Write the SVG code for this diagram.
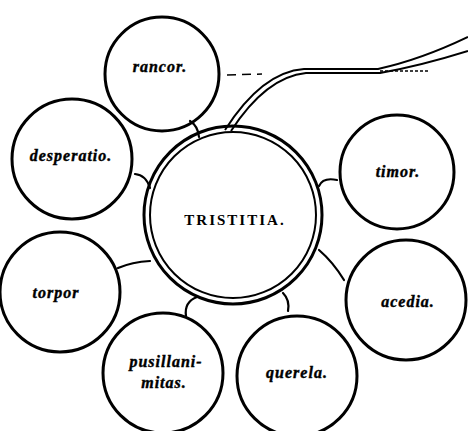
<svg xmlns="http://www.w3.org/2000/svg" width="468" height="431" viewBox="0 0 468 431">
<style>
.c{fill:none;stroke:#000;stroke-width:3}
.l{fill:none;stroke:#000;stroke-width:2.2;stroke-linecap:round}
.t{font-family:"Liberation Serif",serif;font-style:italic;font-weight:bold;font-size:16px;letter-spacing:1px;text-anchor:middle;fill:#000;stroke:#000;stroke-width:0.4}
.m{font-family:"Liberation Serif",serif;font-weight:bold;font-size:15px;letter-spacing:2px;text-anchor:middle;fill:#000}
</style>
<rect width="468" height="431" fill="#fff"/>
<g id="connectors">
<path class="l" d="M190,121 Q198,126 199,137"/>
<path class="l" d="M135,174 Q146,175 150,188"/>
<path class="l" d="M118,268 Q132,262 150,261"/>
<path class="l" d="M319,186 Q323,177 337,180"/>
<path class="l" d="M319,250 Q333,262 344,280"/>
<path class="l" d="M186,316 Q184,302 197,297"/>
<path class="l" d="M288,311 Q290,300 283,293"/>
<path fill="none" stroke="#000" stroke-width="2" d="M225,130 Q262,72 304,69 L378,69 Q420,60 468,37"/>
<path fill="none" stroke="#000" stroke-width="2" d="M231,131 Q266,77 306,73 L380,73 Q420,66 468,51"/>
<path fill="none" stroke="#000" stroke-width="1.5" stroke-dasharray="3,2" d="M380,71 L428,71"/>
<path fill="none" stroke="#000" stroke-width="1.5" stroke-dasharray="9,6" d="M227,75 L262,74"/>
</g>
<g id="tristitia">
<circle class="c" cx="233" cy="215" r="89"/>
<circle fill="none" stroke="#000" stroke-width="2" cx="233" cy="215" r="83"/>
<text class="m" x="235" y="225">TRISTITIA.</text>
</g>
<g id="rancor">
<circle class="c" cx="162" cy="74" r="57"/>
<text class="t" x="160" y="72">rancor.</text>
</g>
<g id="desperatio">
<circle class="c" cx="72" cy="159" r="60"/>
<text class="t" x="71" y="161">desperatio.</text>
</g>
<g id="torpor">
<circle class="c" cx="60" cy="292" r="60"/>
<text class="t" x="56" y="298">torpor</text>
</g>
<g id="timor">
<circle class="c" cx="397" cy="172" r="57"/>
<text class="t" x="398" y="177">timor.</text>
</g>
<g id="acedia">
<circle class="c" cx="406" cy="300" r="60"/>
<text class="t" x="408" y="307">acedia.</text>
</g>
<g id="pusillanimitas">
<circle class="c" cx="163" cy="373" r="60"/>
<text class="t" x="166" y="367">pusillani-</text>
<text class="t" x="164" y="388">mitas.</text>
</g>
<g id="querela">
<circle class="c" cx="297" cy="376" r="60"/>
<text class="t" x="297" y="378">querela.</text>
</g>
</svg>
